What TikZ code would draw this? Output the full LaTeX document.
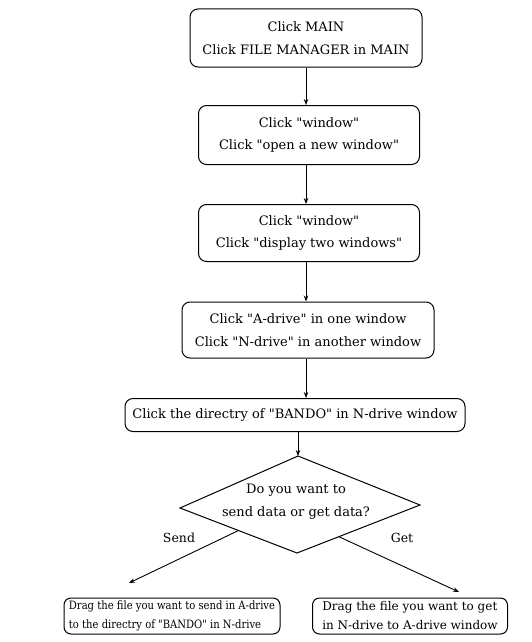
\documentclass[tikz,border=0pt]{standalone}
\usepackage{fontspec}
\setmainfont{DejaVu Serif}[Ligatures=TeXOff]
\newfontfamily\narrowserif{DejaVu Serif}[Ligatures=TeXOff, FakeStretch=0.87]
\usetikzlibrary{arrows.meta,calc}
\begin{document}
\begin{tikzpicture}[x=1pt,y=-1pt,
  stepbox/.style={draw, rounded corners=8pt, line width=1pt, align=center,
    inner sep=0pt, font=\fontsize{13}{22.5}\selectfont},
  endbox/.style={draw, rounded corners=7pt, line width=1pt, align=left,
    inner xsep=3pt, inner ysep=0pt, minimum height=36pt},
  txt/.style={align=center, inner sep=0pt, font=\fontsize{13}{23}\selectfont},
  flow/.style={draw, line width=0.9pt, -{Stealth[length=6pt,width=4.5pt]}},
  lbl/.style={font=\fontsize{12.5}{14}\selectfont}]
\useasboundingbox (0,0) rectangle (531,642);

% main sequence of steps
\node[stepbox, minimum width=232pt, minimum height=58pt] (b1) at (306,38)
  {Click MAIN\\Click FILE MANAGER in MAIN};
\node[stepbox, minimum width=221pt, minimum height=59pt] (b2) at (309,135)
  {Click "window"\\Click "open a new window"};
\node[stepbox, minimum width=221pt, minimum height=57pt] (b3) at (309,233)
  {Click "window"\\Click "display two windows"};
\node[stepbox, minimum width=252pt, minimum height=56pt] (b4) at (308,330)
  {Click "A-drive" in one window\\Click "N-drive" in another window};
\node[stepbox, minimum width=340pt, minimum height=33pt] (b5) at (295,415)
  {Click the directry of "BANDO" in N-drive window};

% decision diamond
\coordinate (dtop) at (298,456);
\coordinate (dleft) at (180,508);
\coordinate (dright) at (420,505);
\coordinate (dbot) at (297,553);
\draw[line width=1pt] (dtop) -- (dright) -- (dbot) -- (dleft) -- cycle;
\node[txt] (dq) at (296,502) {Do you want to\\send data or get data?};

% final actions
\node[endbox, minimum width=216pt, font=\narrowserif\fontsize{11.5}{19}\selectfont] (send) at (172,616)
  {Drag the file you want to send in A-drive\\to the directry of "BANDO" in N-drive};
\node[endbox, minimum width=195pt, inner xsep=6pt, font=\fontsize{12}{19}\selectfont] (get) at (410,616)
  {Drag the file you want to get\\in N-drive to A-drive window};

% connectors
\draw[flow] (b1.south -| 306,0) -- (b2.north -| 306,0);
\draw[flow] (b2.south -| 306,0) -- (b3.north -| 306,0);
\draw[flow] (b3.south -| 306,0) -- (b4.north -| 306,0);
\draw[flow] (b4.south -| 306,0) -- (b5.north -| 306,0);
\draw[flow] (b5.south -| dtop) -- (dtop);

\coordinate (sendtip) at (129,583);
\coordinate (gettip) at (459,592);
\draw[flow] ($(dbot)!0.5!(dleft)$) -- (sendtip);
\draw[flow] ($(dbot)!0.34!(dright)$) -- (gettip);

\node[lbl] (sendlbl) at (179,538) {Send};
\node[lbl] (getlbl) at (402,538) {Get};
\end{tikzpicture}
\end{document}
